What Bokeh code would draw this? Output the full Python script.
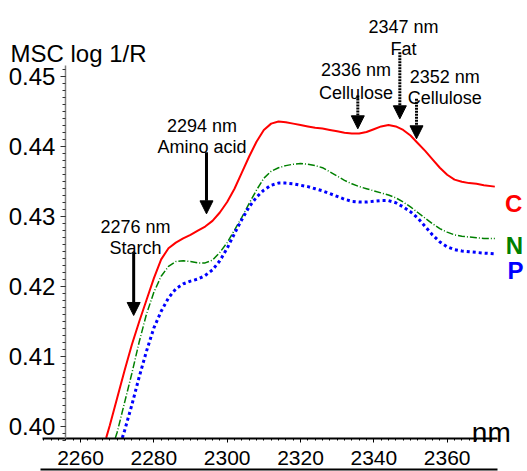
from bokeh.plotting import figure
from bokeh.models import (Range1d, FixedTicker, SingleIntervalTicker, Label, Arrow,
                          NormalHead, LinearAxis)
from bokeh.embed import file_html
from bokeh.resources import INLINE

# ---------------- data ----------------
grid = [2270, 2272, 2274, 2276, 2278, 2280, 2282, 2284, 2286, 2288,
        2290, 2292, 2294, 2296, 2298, 2300, 2302, 2304, 2306, 2308, 2310, 2312,
        2314, 2316, 2318, 2320, 2322, 2324, 2326, 2328, 2330, 2332, 2334, 2336,
        2338, 2340, 2342, 2344, 2346, 2348, 2350, 2352, 2354, 2356, 2358, 2360,
        2362, 2364, 2366, 2368, 2370, 2373]

x_C = [2267.0, 2268] + grid
series_C = [0.3983, 0.4001, 0.4040, 0.4079, 0.4116, 0.4149, 0.4180, 0.4211, 0.4238, 0.4254,
            0.4262, 0.4268, 0.4273, 0.4279, 0.4285, 0.4293, 0.4305, 0.4320, 0.4339, 0.4362,
            0.4385, 0.4406, 0.4423, 0.4432, 0.4435, 0.4434, 0.4432, 0.4430, 0.4428, 0.4426,
            0.4425, 0.4423, 0.4421, 0.4419, 0.4418, 0.4418, 0.4420, 0.4424, 0.4428, 0.4430,
            0.4428, 0.4423, 0.4415, 0.4404, 0.4393, 0.4381, 0.4369, 0.4359, 0.4352, 0.4349,
            0.4347, 0.4346, 0.4344, 0.4342]

x_N = [2269.5] + grid
series_N = [0.3983, 0.3991, 0.4033, 0.4075, 0.4120, 0.4160, 0.4191, 0.4214, 0.4228,
            0.4235, 0.4236, 0.4235, 0.4233, 0.4233, 0.4237, 0.4248, 0.4262, 0.4280, 0.4298,
            0.4318, 0.4337, 0.4354, 0.4364, 0.4369, 0.4372, 0.4374, 0.4375, 0.4374, 0.4372,
            0.4369, 0.4363, 0.4357, 0.4351, 0.4346, 0.4342, 0.4339, 0.4336, 0.4333, 0.4330,
            0.4326, 0.4320, 0.4313, 0.4305, 0.4297, 0.4289, 0.4282, 0.4277, 0.4273, 0.4271,
            0.4270, 0.4269, 0.4268, 0.4268]

x_P = [2271.4] + grid[1:]
series_P = [0.3983, 0.3993, 0.4030, 0.4070, 0.4107, 0.4140, 0.4164, 0.4183,
            0.4196, 0.4203, 0.4207, 0.4210, 0.4215, 0.4223, 0.4236, 0.4254, 0.4275, 0.4295,
            0.4313, 0.4327, 0.4337, 0.4344, 0.4347, 0.4347, 0.4346, 0.4344, 0.4342, 0.4339,
            0.4336, 0.4332, 0.4328, 0.4324, 0.4321, 0.4320, 0.4320, 0.4321, 0.4322, 0.4322,
            0.4319, 0.4313, 0.4306, 0.4297, 0.4285, 0.4273, 0.4263, 0.4256, 0.4252, 0.4250,
            0.4249, 0.4248, 0.4247, 0.4246]

x_ticks = [2260, 2280, 2300, 2320, 2340, 2360]
y_ticks = [0.40, 0.41, 0.42, 0.43, 0.44, 0.45]
y_tick_labels = ["0.40", "0.41", "0.42", "0.43", "0.44", "0.45"]

series_names = ["C", "N", "P"]

# annotations: (wavelength of arrow, line1, line2)
annot_nm = [2274.5, 2294.36, 2335.63, 2347.09, 2351.64]
annot_line1 = ["2276 nm", "2294 nm", "2336 nm", "2347 nm", "2352 nm"]
annot_line2 = ["Starch", "Amino acid", "Cellulose", "Fat", "Cellulose"]

# ---------------- layout / styling positions ----------------
arrow_y_start = [0.42483, 0.43911, 0.44721, 0.4534, 0.44674]
arrow_y_end = [0.41579, 0.43031, 0.44246, 0.44389, 0.44103]
arrow_dash = ["solid", "solid", "2 1", "2 1", "2 1"]
text_x = [2275.0, 2293.14, 2335.14, 2348.09, 2359.35]
text_y1 = [0.42836, 0.44293, 0.45079, 0.45697, 0.44983]
text_y2 = [0.42536, 0.43979, 0.44764, 0.45393, 0.44679]

name_x = [2378.17, 2378.36, 2378.64]
name_y = [0.43174, 0.42579, 0.42221]
colors = ["#ff0000", "#008000", "#0000ff"]

X_AXIS_BOUNDS = (2249.64, 2373.73)
Y_AXIS_BOUNDS = (0.39826, 0.4515)

FONT = "Liberation Sans"

p = figure(width=527, height=471, output_backend="svg", toolbar_location=None,
           x_range=Range1d(2238.18, 2381.91), y_range=Range1d(0.3935, 0.46079))
p.min_border_left = 0
p.min_border_right = 0
p.min_border_top = 0
p.min_border_bottom = 0
p.outline_line_color = None
p.xgrid.visible = False
p.ygrid.visible = False
p.background_fill_color = "white"
p.border_fill_color = "white"

# x axis
xa = p.xaxis[0]
xa.fixed_location = Y_AXIS_BOUNDS[0]
xa.bounds = X_AXIS_BOUNDS
xa.ticker = SingleIntervalTicker(interval=20, num_minor_ticks=10)
xa.axis_line_color = "black"
xa.axis_line_width = 2
xa.major_tick_out = 4
xa.major_tick_in = 0
xa.minor_tick_out = 2
xa.minor_tick_in = 0
xa.major_tick_line_color = "black"
xa.minor_tick_line_color = "black"
xa.major_label_text_font = FONT
xa.major_label_text_font_size = "21px"
xa.major_label_text_color = "black"
xa.major_label_standoff = 9

# underline below the tick labels (axis line only)
ul = LinearAxis(ticker=FixedTicker(ticks=[], minor_ticks=[]), fixed_location=0.39379,
                bounds=(2249.1, 2373.73), axis_line_color="black", axis_line_width=2,
                major_tick_line_color=None, minor_tick_line_color=None,
                major_label_text_color=None, major_label_text_font_size="0px")
p.add_layout(ul, "below")

# y axis
ya = p.yaxis[0]
ya.fixed_location = 2255.9
ya.bounds = Y_AXIS_BOUNDS
minor_y = [round(0.398 + i * 0.001, 3) for i in range(0, 54)]
ya.ticker = FixedTicker(ticks=y_ticks, minor_ticks=minor_y)
ya.major_label_overrides = {t: l for t, l in zip(y_ticks, y_tick_labels)}
ya.axis_line_color = "#808080"
ya.axis_line_width = 1.5
ya.major_tick_out = 5
ya.major_tick_in = 0
ya.minor_tick_out = 3
ya.minor_tick_in = 0
ya.major_tick_line_color = "#333333"
ya.minor_tick_line_color = "#333333"
ya.major_label_text_font = FONT
ya.major_label_text_font_size = "24px"
ya.major_label_text_color = "black"
ya.major_label_standoff = 5

# curves
p.line(x_C, series_C, line_color=colors[0], line_width=2)
p.line(x_N, series_N, line_color=colors[1], line_width=1.5, line_dash="7 2 1 2")
p.line(x_P, series_P, line_color=colors[2], line_width=3, line_dash="3 3")

# series names
for nx, ny, nm_, c in zip(name_x, name_y, series_names, colors):
    p.add_layout(Label(x=nx, y=ny, text=nm_, text_font=FONT, text_font_size="24px",
                       text_font_style="bold", text_color=c, text_align="center",
                       text_baseline="alphabetic"))

# arrows and annotation texts
for ax, y0, y1, dash, tx, ty1, ty2, l1, l2 in zip(annot_nm, arrow_y_start, arrow_y_end,
                                                  arrow_dash, text_x, text_y1, text_y2,
                                                  annot_line1, annot_line2):
    p.add_layout(Arrow(end=NormalHead(size=13, fill_color="black", line_color="black",
                                      line_width=1),
                       x_start=ax, y_start=y0, x_end=ax, y_end=y1,
                       line_color="black", line_width=3, line_dash=dash))
    for ty, txt in ((ty1, l1), (ty2, l2)):
        p.add_layout(Label(x=tx, y=ty, text=txt, text_font=FONT, text_font_size="18px",
                           text_color="black", text_align="center",
                           text_baseline="alphabetic"))

# axis titles
p.add_layout(Label(x=2240.91, y=0.45317, text="MSC log 1/R", text_font=FONT,
                   text_font_size="24px", text_color="black", text_align="left",
                   text_baseline="alphabetic"))
p.add_layout(Label(x=2372.04, y=0.39907, text="nm", text_font=FONT,
                   text_font_size="28px", text_color="black", text_align="center",
                   text_baseline="alphabetic"))

open("out.html", "w").write(file_html(p, INLINE))
